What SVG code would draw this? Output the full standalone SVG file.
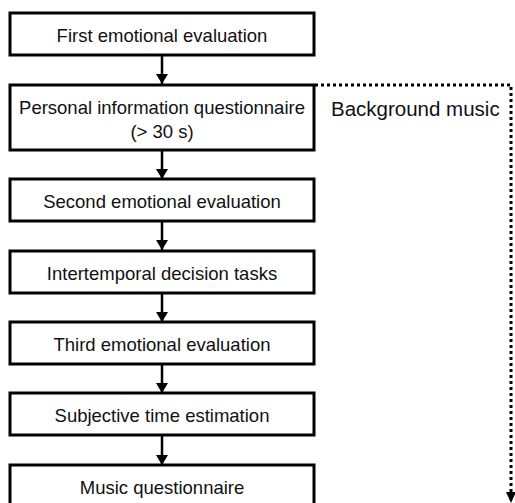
<svg xmlns="http://www.w3.org/2000/svg" width="515" height="503" viewBox="0 0 515 503">
  <style>
    .box { fill: #fff; stroke: #000; stroke-width: 3; }
    .lbl { font-family: "Liberation Sans", Arial, sans-serif; font-size: 18.5px; fill: #111; text-anchor: middle; }
    .side { font-family: "Liberation Sans", Arial, sans-serif; font-size: 20.5px; fill: #111; }
    .flow { stroke: #000; stroke-width: 2.5; fill: none; marker-end: url(#head); }
    .dots { stroke: #000; stroke-width: 3; fill: none; stroke-dasharray: 3 3; }
  </style>
  <defs>
    <marker id="head" viewBox="0 0 10 12" refX="10" refY="6" markerWidth="10" markerHeight="12" markerUnits="userSpaceOnUse" orient="auto">
      <path d="M0,0 L10,6 L0,12 Z" fill="#000"/>
    </marker>
  </defs>

  <g id="connectors">
    <line class="flow" x1="162" y1="56" x2="162" y2="84"/>
    <line class="flow" x1="162" y1="151" x2="162" y2="179"/>
    <line class="flow" x1="162" y1="222" x2="162" y2="250"/>
    <line class="flow" x1="162" y1="293" x2="162" y2="322"/>
    <line class="flow" x1="162" y1="365" x2="162" y2="393"/>
    <line class="flow" x1="162" y1="436" x2="162" y2="465"/>
    <polyline class="dots" points="315,85 511,85 511,492"/>
    <path d="M506,492 L516,492 L511,503 Z" fill="#000"/>
  </g>

  <g id="first-evaluation">
    <rect class="box" x="10" y="13" width="304" height="42"/>
    <text class="lbl" x="162" y="42">First emotional evaluation</text>
  </g>
  <g id="personal-questionnaire">
    <rect class="box" x="10" y="85" width="304" height="65"/>
    <text class="lbl" x="162" y="114">Personal information questionnaire</text>
    <text class="lbl" x="162" y="138">(&gt; 30 s)</text>
  </g>
  <g id="second-evaluation">
    <rect class="box" x="10" y="179" width="304" height="42"/>
    <text class="lbl" x="162" y="208">Second emotional evaluation</text>
  </g>
  <g id="intertemporal-tasks">
    <rect class="box" x="10" y="251" width="304" height="42"/>
    <text class="lbl" x="162" y="280">Intertemporal decision tasks</text>
  </g>
  <g id="third-evaluation">
    <rect class="box" x="10" y="322" width="304" height="42"/>
    <text class="lbl" x="162" y="351">Third emotional evaluation</text>
  </g>
  <g id="time-estimation">
    <rect class="box" x="10" y="393" width="304" height="42"/>
    <text class="lbl" x="162" y="422">Subjective time estimation</text>
  </g>
  <g id="music-questionnaire">
    <rect class="box" x="10" y="465" width="304" height="50"/>
    <text class="lbl" x="162" y="494">Music questionnaire</text>
  </g>
  <g id="background-music">
    <text class="side" x="331" y="116">Background music</text>
  </g>
</svg>
